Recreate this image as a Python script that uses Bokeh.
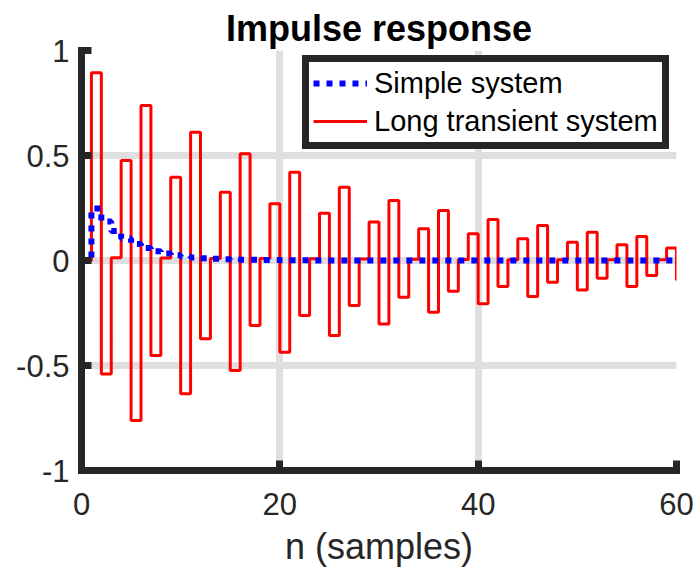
from bokeh.plotting import figure
from bokeh.models import Range1d, Legend, LegendItem, FixedTicker, NumeralTickFormatter
from bokeh.embed import file_html
from bokeh.resources import INLINE

n = list(range(61))

simple_system = [0, 0.248, 0.186, 0.140, 0.105, 0.079, 0.059, 0.044, 0.033, 0.025,
                 0.019, 0.014, 0.011, 0.008, 0.006, 0.005, 0.003, 0.003, 0.002, 0.002,
                 0.001, 0.001, 0.001, 0, 0, 0, 0, 0, 0, 0,
                 0, 0, 0, 0, 0, 0, 0, 0, 0, 0,
                 0, 0, 0, 0, 0, 0, 0, 0, 0, 0,
                 0, 0, 0, 0, 0, 0, 0, 0, 0, 0, 0]

long_transient = [0, 0.894, -0.540, 0.013, 0.476, -0.762, 0.738, -0.452, 0.012, 0.397,
                  -0.635, 0.611, -0.373, 0.010, 0.325, -0.524, 0.508, -0.310, 0.009, 0.270,
                  -0.437, 0.420, -0.262, 0.008, 0.225, -0.357, 0.349, -0.214, 0.007, 0.183,
                  -0.302, 0.286, -0.175, 0.006, 0.151, -0.246, 0.238, -0.146, 0.005, 0.127,
                  -0.206, 0.195, -0.124, 0.004, 0.103, -0.171, 0.167, -0.103, 0.004, 0.087,
                  -0.140, 0.135, -0.084, 0.003, 0.075, -0.124, 0.114, -0.071, 0.003, 0.060,
                  -0.095]

x_ticks = [0, 20, 40, 60]
y_ticks = [-1, -0.5, 0, 0.5, 1]

FONT = "Liberation Sans"
DARK = "#262626"

p = figure(width=694, height=574, output_backend="svg", toolbar_location=None,
           x_range=Range1d(0, 60), y_range=Range1d(-1, 1),
           min_border_left=81, min_border_right=18, min_border_top=50, min_border_bottom=104,
           title="Impulse response")
p.outline_line_color = None
p.background_fill_color = "white"
p.border_fill_color = "white"

p.title.text_font = FONT
p.title.text_font_size = "36px"
p.title.text_font_style = "bold"
p.title.text_color = "black"
p.title.align = "center"
p.title.standoff = 4

for ax in (p.xaxis[0], p.yaxis[0]):
    ax.axis_line_color = DARK
    ax.axis_line_width = 7
    ax.axis_line_cap = "square"
    ax.major_tick_line_color = DARK
    ax.major_tick_line_width = 7
    ax.major_tick_in = 10
    ax.major_tick_out = 0
    ax.minor_tick_line_color = None
    ax.major_label_text_font = FONT
    ax.major_label_text_font_size = "31px"
    ax.major_label_text_color = DARK

p.xaxis.ticker = FixedTicker(ticks=x_ticks)
p.yaxis.ticker = FixedTicker(ticks=y_ticks)
p.xaxis.formatter = NumeralTickFormatter(format="0")
p.yaxis.formatter = NumeralTickFormatter(format="0.[0]")
p.xaxis.major_label_standoff = 22
p.yaxis.major_label_standoff = 12

p.xaxis.axis_label = "n (samples)"
p.xaxis.axis_label_text_font = FONT
p.xaxis.axis_label_text_font_size = "36px"
p.xaxis.axis_label_text_font_style = "normal"
p.xaxis.axis_label_text_color = DARK
p.xaxis.axis_label_standoff = 8

p.grid.grid_line_color = "#dfdfdf"
p.grid.grid_line_width = 7

r_long = p.step(n, long_transient, mode="after", line_color="#ff0000", line_width=3)
r_simple = p.step(n, simple_system, mode="after", line_color="#0000ff", line_width=6,
                  line_dash="6 7")

legend = Legend(items=[LegendItem(label="Simple system", renderers=[r_simple]),
                       LegendItem(label="Long transient system", renderers=[r_long])],
                location=(221, 321))
legend.border_line_color = DARK
legend.border_line_alpha = 1
legend.border_line_width = 7
legend.background_fill_color = "white"
legend.background_fill_alpha = 1
legend.label_text_font = FONT
legend.label_text_font_size = "29px"
legend.label_text_color = "black"
legend.glyph_width = 54
legend.glyph_height = 34
legend.label_height = 34
legend.label_standoff = 7
legend.padding = 4
legend.spacing = 4
legend.margin = 0
p.add_layout(legend, "center")

open("out.html", "w").write(file_html(p, INLINE))
